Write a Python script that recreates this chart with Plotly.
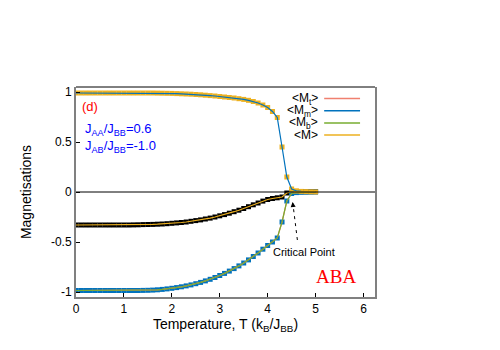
import plotly.graph_objects as go

# temperature grid (k_B/J_BB) and magnetisations
temps = [0.0, 0.1, 0.2, 0.3, 0.4, 0.5, 0.6, 0.7, 0.8, 0.9,
         1.0, 1.1, 1.2, 1.3, 1.4, 1.5, 1.6, 1.7, 1.8, 1.9,
         2.0, 2.1, 2.2, 2.3, 2.4, 2.5, 2.6, 2.7, 2.8, 2.9,
         3.0, 3.1, 3.2, 3.3, 3.4, 3.5, 3.6, 3.7, 3.8, 3.9,
         4.0, 4.1, 4.2, 4.3, 4.4, 4.5, 4.6, 4.7, 4.8, 4.9, 5.0]

# middle layer <M_m>
m_mid = [0.99, 0.99, 0.99, 0.99, 0.99, 0.99, 0.99, 0.99, 0.99, 0.99,
         0.99, 0.99, 0.99, 0.99, 0.99, 0.99, 0.99, 0.989, 0.988, 0.987,
         0.986, 0.984, 0.982, 0.98, 0.978, 0.975, 0.972, 0.968, 0.964, 0.96,
         0.955, 0.95, 0.945, 0.94, 0.933, 0.926, 0.917, 0.905, 0.89, 0.87,
         0.845, 0.805, 0.745, 0.45, 0.15, 0.03, 0.012, 0.006, 0.004, 0.002, 0.001]

# outer layers <M_t> = <M_b>
m_top = [-0.985, -0.985, -0.985, -0.985, -0.985, -0.985, -0.985, -0.985, -0.985, -0.985,
         -0.985, -0.985, -0.985, -0.985, -0.984, -0.983, -0.981, -0.978, -0.974, -0.969,
         -0.963, -0.956, -0.948, -0.939, -0.929, -0.917, -0.904, -0.889, -0.873, -0.855,
         -0.835, -0.814, -0.791, -0.766, -0.739, -0.71, -0.679, -0.645, -0.61, -0.572,
         -0.535, -0.5, -0.46, -0.3, -0.09, -0.015, -0.006, -0.003, -0.002, -0.001, 0.0]
m_bot = list(m_top)

# total <M>
m_tot = [-0.33, -0.33, -0.33, -0.33, -0.33, -0.33, -0.33, -0.33, -0.33, -0.33,
         -0.33, -0.33, -0.329, -0.328, -0.326, -0.325, -0.324, -0.322, -0.32, -0.317,
         -0.313, -0.309, -0.305, -0.3, -0.293, -0.286, -0.279, -0.27, -0.261, -0.25,
         -0.238, -0.226, -0.212, -0.197, -0.182, -0.165, -0.147, -0.128, -0.11, -0.091,
         -0.075, -0.065, -0.058, -0.05, -0.01, 0.0, 0.002, 0.003, 0.003, 0.003, 0.003]

x_ticks = [0, 1, 2, 3, 4, 5, 6]
y_ticks = [1, 0.5, 0, -0.5, -1]
y_labels = ["1", "0.5", "0", "-0.5", "-1"]

RED = "#f0806f"
BLUE = "#0072bd"
GREEN = "#77ac30"
ORANGE = "#edb120"
GREY = "#808080"
FONT = "Liberation Sans"

fig = go.Figure()

# simulation points (squares), drawn under the lines
fig.add_trace(go.Scatter(x=temps, y=m_tot, mode="markers", showlegend=False,
                         marker=dict(symbol="square", size=5, color="black")))
fig.add_trace(go.Scatter(x=temps, y=m_bot, mode="markers", showlegend=False,
                         marker=dict(symbol="square", size=5, color=BLUE)))
fig.add_trace(go.Scatter(x=temps, y=m_mid, mode="markers", showlegend=False,
                         marker=dict(symbol="square", size=5, color=ORANGE)))

# lines
fig.add_trace(go.Scatter(x=temps, y=m_top, mode="lines", showlegend=False,
                         line=dict(color=RED, width=1.2)))
fig.add_trace(go.Scatter(x=temps, y=m_mid, mode="lines", showlegend=False,
                         line=dict(color=BLUE, width=1.2)))
fig.add_trace(go.Scatter(x=temps, y=m_bot, mode="lines", showlegend=False,
                         line=dict(color=GREEN, width=1.2)))
fig.add_trace(go.Scatter(x=temps, y=m_tot, mode="lines", showlegend=False,
                         line=dict(color=ORANGE, width=1.2)))

# zero line and top border
fig.add_shape(type="line", xref="paper", yref="y", x0=0, x1=1, y0=0, y1=0,
              line=dict(color="black", width=1))
fig.add_shape(type="line", xref="paper", yref="paper", x0=0, x1=1, y0=1, y1=1,
              line=dict(color="black", width=1))

# gnuplot-style key: text on the left, sample on the right
keys = [("&lt;M<sub>t</sub>&gt;", RED), ("&lt;M<sub>m</sub>&gt;", BLUE),
        ("&lt;M<sub>b</sub>&gt;", GREEN), ("&lt;M&gt;", ORANGE)]
for i, (lab, col) in enumerate(keys):
    yk = 0.945 - i * 0.058
    fig.add_annotation(x=0.815, y=yk, xref="paper", yref="paper", text=lab,
                       showarrow=False, xanchor="right", yanchor="middle",
                       font=dict(size=12, color="black", family=FONT))
    fig.add_shape(type="line", xref="paper", yref="paper", x0=0.83, x1=0.95,
                  y0=yk, y1=yk, line=dict(color=col, width=1.5))

fig.add_annotation(x=0.013, y=0.905, xref="paper", yref="paper", text="(d)",
                   showarrow=False, xanchor="left", yanchor="middle",
                   font=dict(size=13, color="red", family=FONT))
fig.add_annotation(x=0.025, y=0.8, xref="paper", yref="paper",
                   text="J<sub>AA</sub>/J<sub>BB</sub>=0.6",
                   showarrow=False, xanchor="left", yanchor="middle",
                   font=dict(size=13, color="blue", family=FONT))
fig.add_annotation(x=0.025, y=0.715, xref="paper", yref="paper",
                   text="J<sub>AB</sub>/J<sub>BB</sub>=-1.0",
                   showarrow=False, xanchor="left", yanchor="middle",
                   font=dict(size=13, color="blue", family=FONT))
fig.add_annotation(x=0.87, y=0.1, xref="paper", yref="paper", text="ABA",
                   showarrow=False, xanchor="center", yanchor="middle",
                   font=dict(size=19, color="red", family="Liberation Serif"))

# critical point marker: dashed shaft + arrow head
fig.add_shape(type="line", x0=4.62, y0=-0.48, x1=4.53, y1=-0.13,
              line=dict(color="black", width=1, dash="3px,4px"))
fig.add_annotation(x=4.52, y=-0.1, ax=4.535, ay=-0.16, xref="x", yref="y",
                   axref="x", ayref="y", text="", showarrow=True,
                   arrowhead=2, arrowsize=1, arrowwidth=1, arrowcolor="black")
fig.add_annotation(x=4.75, y=-0.6, text="Critical Point", showarrow=False,
                   xanchor="center", yanchor="middle",
                   font=dict(size=11, color="black", family=FONT))

fig.update_xaxes(range=[0, 6.24], tickvals=x_ticks, ticks="inside", ticklen=4,
                 tickcolor="black", showline=True, linecolor=GREY, linewidth=2,
                 showgrid=False, zeroline=False, automargin=False,
                 tickfont=dict(size=12, color="black", family=FONT),
                 title=dict(text="Temperature, T (k<sub>B</sub>/J<sub>BB</sub>)",
                            font=dict(size=14, color="black", family=FONT),
                            standoff=2))
fig.update_yaxes(range=[-1.05, 1.05], tickvals=y_ticks, ticktext=y_labels,
                 ticks="inside", ticklen=4, tickcolor="black",
                 showline=True, linecolor=GREY, linewidth=2, mirror=True,
                 showgrid=False, zeroline=False, automargin=False,
                 tickfont=dict(size=12, color="black", family=FONT),
                 title=dict(text="Magnetisations",
                            font=dict(size=14, color="black", family=FONT),
                            standoff=16))

# the page body adds an 8 px offset, so margins are shifted to compensate
fig.update_layout(width=500, height=350, margin=dict(l=68, r=133, t=79, b=61),
                  plot_bgcolor="white", paper_bgcolor="white",
                  font=dict(family=FONT), showlegend=False)

fig.write_html("out.html")
